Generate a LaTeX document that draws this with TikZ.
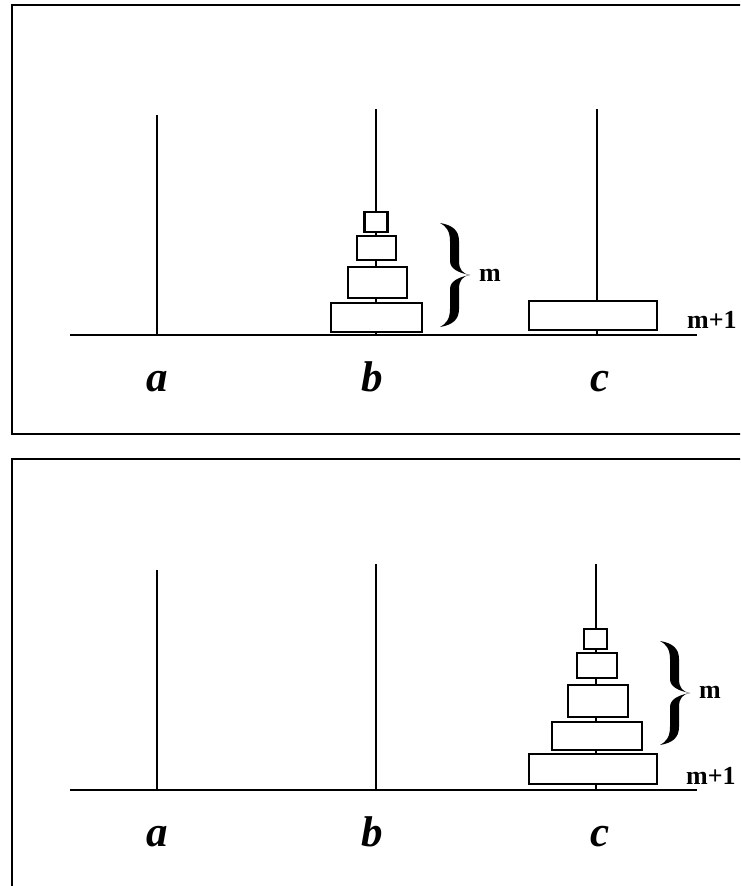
\documentclass[tikz,border=0pt]{standalone}
\usepackage{fontspec}
\setmainfont{Liberation Serif}
\begin{document}
\begin{tikzpicture}[x=1pt,y=-1pt,
  frame/.style={line width=2.6pt},
  base/.style={line width=2.6pt},
  peg/.style={line width=2.4pt},
  disk/.style={draw,fill=white,line width=2.4pt,inner sep=0pt,outer sep=0pt},
  pegname/.style={font=\fontsize{43}{43}\selectfont\bfseries\itshape,inner sep=0pt,anchor=base},
  count/.style={font=\fontsize{26}{26}\selectfont\bfseries,inner sep=0pt,anchor=west},
  brace/.pic={
    \fill (0,-52) .. controls (12,-50) and (19,-45) .. (19,-34) -- (19,-14)
      .. controls (19,-5) and (23,-1) .. (30,0)
      .. controls (19,-2) and (10,-6) .. (10,-14) -- (10,-34)
      .. controls (10,-44) and (6,-49) .. (0,-52) -- cycle;
    \fill (0,52) .. controls (12,50) and (19,45) .. (19,34) -- (19,14)
      .. controls (19,5) and (23,1) .. (30,0)
      .. controls (19,2) and (10,6) .. (10,14) -- (10,34)
      .. controls (10,44) and (6,49) .. (0,52) -- cycle;
  }]
\useasboundingbox (0,0) rectangle (740,886);
\clip (0,0) rectangle (740,886);
% panels
\draw[frame] (12,5) rectangle (760,434);
\draw[frame] (12,459) rectangle (760,900);

% ---------- top panel ----------
\coordinate (ta0) at (157,115); \coordinate (ta1) at (157,335);
\coordinate (tb0) at (376,109); \coordinate (tb1) at (376,335);
\coordinate (tc0) at (597,109); \coordinate (tc1) at (597,335);
\coordinate (tl) at (70,335); \coordinate (tr) at (697,335);
\draw[peg] (ta0) -- (ta1);
\draw[peg] (tb0) -- (tb1);
\draw[peg] (tc0) -- (tc1);
\draw[base] (tl) -- (tr);
\node[disk,minimum width=23pt,minimum height=20pt] (tbd1) at (376,222) {};
\node[disk,minimum width=39pt,minimum height=24pt] (tbd2) at (376.5,248) {};
\node[disk,minimum width=59pt,minimum height=31pt] (tbd3) at (377.5,282.5) {};
\node[disk,minimum width=91pt,minimum height=29pt] (tbd4) at (376.5,317.5) {};
\node[disk,minimum width=128pt,minimum height=29pt] (tcd1) at (593,315.5) {};
\pic at (440,275) {brace};
\node[count] (tm) at (479,275) {m};
\node[count] (tm1) at (687,320) {m+1};
\node[pegname] (tla) at (157,391) {a};
\node[pegname] (tlb) at (372,391) {b};
\node[pegname] (tlc) at (600,391) {c};

% ---------- bottom panel ----------
\coordinate (ba0) at (157,570); \coordinate (ba1) at (157,790);
\coordinate (bb0) at (376,564); \coordinate (bb1) at (376,790);
\coordinate (bc0) at (596,564); \coordinate (bc1) at (596,790);
\coordinate (bl) at (70,790); \coordinate (br) at (697,790);
\draw[peg] (ba0) -- (ba1);
\draw[peg] (bb0) -- (bb1);
\draw[peg] (bc0) -- (bc1);
\draw[base] (bl) -- (br);
\node[disk,minimum width=23pt,minimum height=20pt] (bcd1) at (595.5,639) {};
\node[disk,minimum width=40pt,minimum height=25pt] (bcd2) at (597,665.5) {};
\node[disk,minimum width=60pt,minimum height=32pt] (bcd3) at (598,701) {};
\node[disk,minimum width=90pt,minimum height=28pt] (bcd4) at (597,736) {};
\node[disk,minimum width=128pt,minimum height=30pt] (bcd5) at (593,769) {};
\pic at (660,693) {brace};
\node[count] (bm) at (699,692) {m};
\node[count] (bm1) at (686,776) {m+1};
\node[pegname] (bla) at (157,846) {a};
\node[pegname] (blb) at (372,846) {b};
\node[pegname] (blc) at (600,846) {c};
\end{tikzpicture}
\end{document}
